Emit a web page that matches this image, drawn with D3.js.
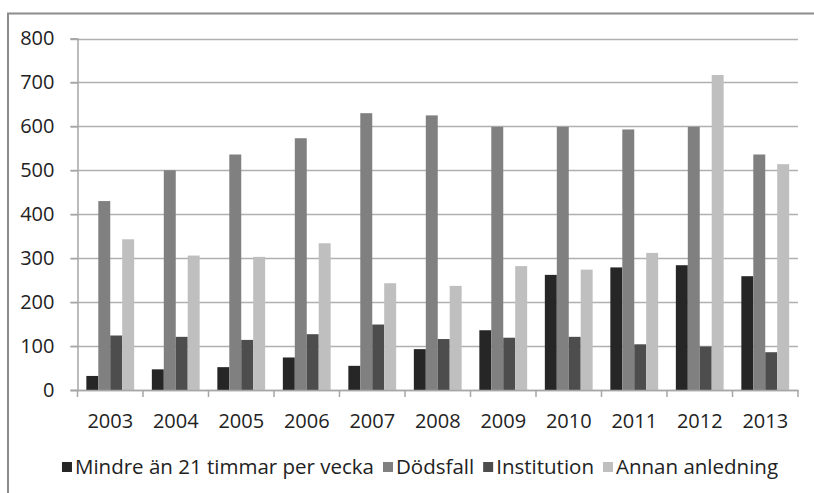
<!DOCTYPE html>
<html lang="sv">
<head>
    <meta charset="UTF-8">
    <title>Avslutade insatser per år</title>
    <style>
        body { margin: 0; background: #fff; }
        text { font-family: "Open Sans", sans-serif; fill: #222; }
        .tick-label { font-size: 20px; }
        .legend-label { font-size: 20.5px; }
    </style>
</head>
<body>
    <svg id="chart" width="814" height="493"></svg>

    <script src="https://d3js.org/d3.v7.min.js"></script>
    <script>
        // data
        const years = ["2003", "2004", "2005", "2006", "2007", "2008", "2009", "2010", "2011", "2012", "2013"];
        const seriesNames = ["Mindre än 21 timmar per vecka", "Dödsfall", "Institution", "Annan anledning"];
        const mindre      = [32, 47, 52, 74, 55, 93, 136, 262, 279, 284, 259];
        const dodsfall    = [430, 500, 536, 573, 630, 625, 599, 599, 593, 599, 536];
        const institution = [124, 121, 114, 127, 149, 116, 119, 121, 104, 99, 86];
        const annan       = [343, 306, 303, 334, 243, 237, 282, 274, 312, 717, 514];
        const yTicks = [0, 100, 200, 300, 400, 500, 600, 700, 800];
        const colors = ["#262626", "#808080", "#4d4d4d", "#bfbfbf"];

        const values = [mindre, dodsfall, institution, annan];
        const rows = years.map((y, i) => ({ year: y, vals: values.map(v => v[i]) }));

        const svg = d3.select("#chart");

        // outer chart frame (runs off the right and bottom edge)
        svg.append("rect")
            .attr("x", 8).attr("y", 13.5)
            .attr("width", 840).attr("height", 520)
            .attr("fill", "none")
            .attr("stroke", "#8c8c8c")
            .attr("stroke-width", 2);

        const plot = { left: 77.5, right: 798, top: 38.5, bottom: 390 };

        const x0 = d3.scaleBand()
            .domain(years)
            .range([plot.left, plot.right]);

        const pad = x0.bandwidth() * 0.135;
        const x1 = d3.scaleBand()
            .domain(d3.range(seriesNames.length))
            .range([pad, x0.bandwidth() - pad]);

        const y = d3.scaleLinear()
            .domain([0, 800])
            .range([plot.bottom, plot.top]);

        // gridlines
        svg.append("g")
            .selectAll("line")
            .data(yTicks)
            .join("line")
            .attr("x1", plot.left - 7)
            .attr("x2", plot.right)
            .attr("y1", d => Math.round(y(d)) + 0.5)
            .attr("y2", d => Math.round(y(d)) + 0.5)
            .attr("stroke", "#b0b0b0")
            .attr("stroke-width", 1.5);

        // y axis
        const yAxis = svg.append("g")
            .attr("transform", `translate(${plot.left},0)`)
            .call(d3.axisLeft(y).tickValues(yTicks).tickSize(7).tickPadding(16));
        yAxis.select(".domain").attr("stroke", "#a6a6a6").attr("stroke-width", 1.5);
        yAxis.selectAll(".tick line").attr("stroke", "#a6a6a6").attr("stroke-width", 1.5);
        yAxis.selectAll("text")
            .attr("class", "tick-label")
            .attr("font-size", null)
            .attr("font-family", null)
            .attr("fill", "#222");

        // bars
        svg.append("g")
            .selectAll("g")
            .data(rows)
            .join("g")
            .attr("transform", d => `translate(${x0(d.year)},0)`)
            .selectAll("rect")
            .data(d => d.vals)
            .join("rect")
            .attr("x", (d, i) => x1(i))
            .attr("y", d => y(d))
            .attr("width", x1.bandwidth())
            .attr("height", d => y(0) - y(d))
            .attr("fill", (d, i) => colors[i]);

        // x axis
        const xAxis = svg.append("g")
            .attr("transform", `translate(0,${plot.bottom})`)
            .call(d3.axisBottom(x0).tickSize(0).tickPadding(24));
        xAxis.select(".domain").attr("stroke", "#a6a6a6").attr("stroke-width", 1.5);
        xAxis.selectAll("text")
            .attr("class", "tick-label")
            .attr("font-size", null)
            .attr("font-family", null)
            .attr("fill", "#222");

        // category separators
        xAxis.append("g")
            .selectAll("line")
            .data(years.concat(["end"]))
            .join("line")
            .attr("x1", (d, i) => i < years.length ? x0(d) : plot.right)
            .attr("x2", (d, i) => i < years.length ? x0(d) : plot.right)
            .attr("y1", 0)
            .attr("y2", 7)
            .attr("stroke", "#a6a6a6")
            .attr("stroke-width", 1.5);

        // legend, centred in the chart area
        const legend = svg.append("g");
        const items = legend.selectAll("g")
            .data(seriesNames)
            .join("g");
        items.append("rect")
            .attr("width", 10).attr("height", 10)
            .attr("y", -5)
            .attr("fill", (d, i) => colors[i]);
        items.append("text")
            .attr("class", "legend-label")
            .attr("x", 13)
            .attr("dy", "0.35em")
            .text(d => d);

        let cx = 0;
        items.each(function () {
            const w = d3.select(this).select("text").node().getComputedTextLength();
            d3.select(this).attr("transform", `translate(${cx},0)`);
            cx += 13 + w + 9;
        });
        const legendWidth = cx - 9;
        legend.attr("transform", `translate(${420 - legendWidth / 2},467)`);
    </script>
</body>
</html>
